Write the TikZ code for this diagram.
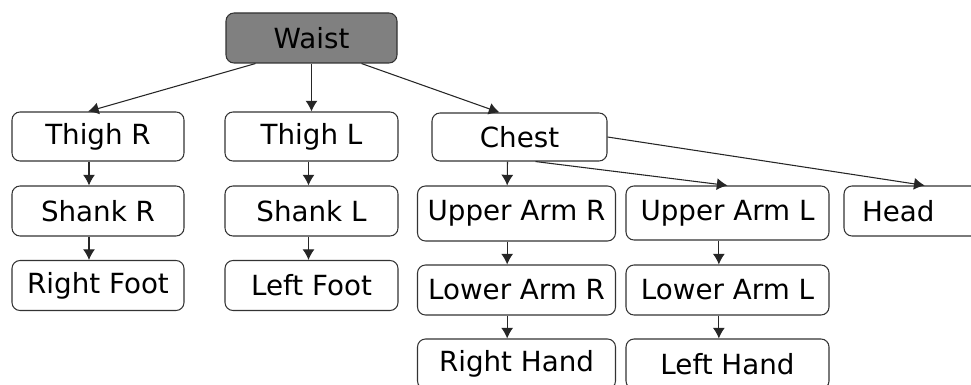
\documentclass[tikz,border=0pt]{standalone}
\usepackage{fontspec}
\setmainfont{DejaVu Sans}
\usetikzlibrary{arrows.meta}
\definecolor{waistgray}{RGB}{128,128,128}
\begin{document}
\begin{tikzpicture}
            [
                x = 0.75pt,
                y = -0.75pt,
                every node/.style={
                    draw = black!80,
                    line width = 0.8pt,
                    rounded corners = 6pt,
                    minimum height = 37.5pt,
                    inner sep = 0pt,
                    font = \fontsize{20.8}{24}\selectfont
                },
                link/.style={
                    draw = black!85,
                    line width = 0.8pt,
                    -{Latex[length=8pt, width=9pt]}
                },
            ]
                \useasboundingbox (0,0) rectangle (971,385);
                \clip (0,0) rectangle (971,385);

                % root
                \node [fill=waistgray, minimum width=128.25pt] (waist) at (311.5,38) {Waist};

                % legs
                \node [minimum width=129pt, minimum height=36.75pt] (thighR) at (98,136.5) {Thigh R};
                \node [minimum width=129pt] (shankR) at (98,211) {Shank R};
                \node [minimum width=129pt] (footR) at (98,285.5) {Right Foot};
                \node [minimum width=129.75pt, minimum height=36.75pt] (thighL) at (311.5,136.5) {Thigh L};
                \node [minimum width=129.75pt] (shankL) at (311.5,211) {Shank L};
                \node [minimum width=129.75pt] (footL) at (311.5,285.5) {Left Foot};

                % upper body
                \node [minimum width=131.25pt, minimum height=36pt] (chest) at (519.5,137) {Chest};
                \node [minimum width=148.5pt, minimum height=41.25pt] (upperR) at (516.5,213.5) {Upper Arm R};
                \node [minimum width=148.5pt] (lowerR) at (516.5,290) {Lower Arm R};
                \node [minimum width=148.5pt] (handR) at (516.5,364) {Right Hand};
                \node [minimum width=152.25pt, minimum height=40.5pt] (upperL) at (727.5,213) {Upper Arm L};
                \node [minimum width=152.25pt] (lowerL) at (727.5,290) {Lower Arm L};
                \node [minimum width=152.25pt] (handL) at (727.5,364) {Left Hand};
                \node [minimum width=105pt, text width=78pt, align=left] (head) at (914,211) {Head};

                % connectors
                \draw [link] ([xshift=-42pt]waist.south) -- ([xshift=-7.5pt]thighR.north);
                \draw [link] (waist.south) -- (thighL.north);
                \draw [link] ([xshift=37.5pt]waist.south) -- ([xshift=-15pt]chest.north);
                \draw [link] ([xshift=-6.75pt]thighR.south) -- ([xshift=-6.75pt]shankR.north);
                \draw [link] ([xshift=-6.75pt]shankR.south) -- ([xshift=-6.75pt]footR.north);
                \draw [link] ([xshift=-2.25pt]thighL.south) -- ([xshift=-2.25pt]shankL.north);
                \draw [link] ([xshift=-2.25pt]shankL.south) -- ([xshift=-2.25pt]footL.north);
                \draw [link] ([xshift=-9pt]chest.south) -- ([xshift=-7pt]upperR.north);
                \draw [link] ([xshift=12pt]chest.south) -- (upperL.north);
                \draw [link] (chest.east) -- ([xshift=8pt]head.north);
                \draw [link] ([xshift=-7pt]upperR.south) -- ([xshift=-7pt]lowerR.north);
                \draw [link] ([xshift=-7pt]lowerR.south) -- ([xshift=-7pt]handR.north);
                \draw [link] ([xshift=-6.5pt]upperL.south) -- ([xshift=-6.5pt]lowerL.north);
                \draw [link] ([xshift=-6.5pt]lowerL.south) -- ([xshift=-6.5pt]handL.north);
            \end{tikzpicture}
\end{document}
